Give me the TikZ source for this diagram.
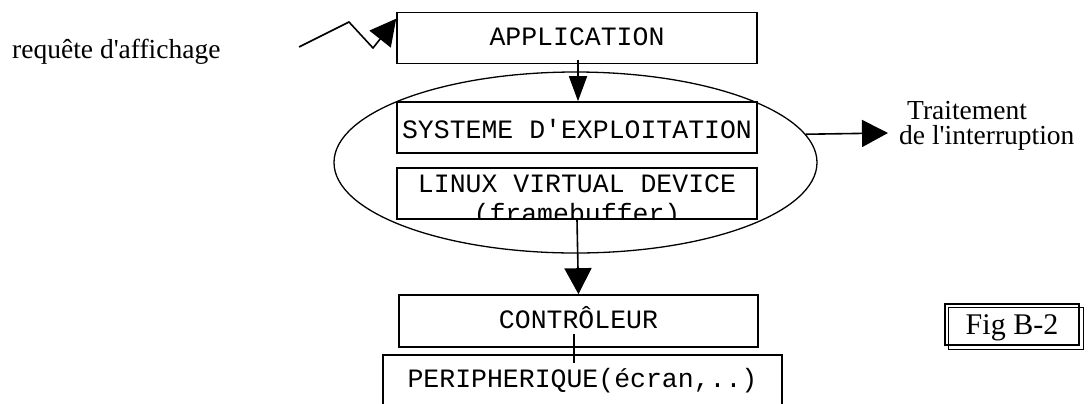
\documentclass[tikz,border=0pt]{standalone}
\usepackage{fontspec}
\setmainfont{Liberation Serif}
\newfontfamily\boxfont{Liberation Mono}
\usetikzlibrary{arrows.meta,shapes.geometric}
\begin{document}
\begin{tikzpicture}[x=1bp,y=-1bp,
  box/.style={draw,line width=1.6bp,fill=white,inner sep=0pt,minimum width=360bp,minimum height=51bp,
    font=\boxfont\fontsize{26.5bp}{30bp}\selectfont,text height=15bp,text depth=0bp},
  lbl/.style={inner sep=0pt,font=\fontsize{27.5bp}{32bp}\selectfont},
  arr/.style={line width=1.6bp,-{Triangle[length=26bp,width=27bp]}},
  plain/.style={line width=1.6bp}]
\useasboundingbox (0,0) rectangle (1089,403);
\clip (0,0) rectangle (1089,403);
% ellipse behind
\node[draw,ellipse,line width=1.3bp,minimum width=483bp,minimum height=181bp,inner sep=0pt] (ell) at (575.5,162.5) {};
% boxes
\node[box] (app) at (577,38) {APPLICATION};
\node[box,text height=21bp] (sys) at (577,127.5) {SYSTEME D'EXPLOITATION};
\node[box,path picture={
   \node[anchor=base,inner sep=0pt,font=\boxfont\fontsize{26.5bp}{30bp}\selectfont] at ([yshift=1.5bp]path picture bounding box.center) {LINUX VIRTUAL DEVICE};
   \node[anchor=base,inner sep=0pt,font=\boxfont\fontsize{26.5bp}{30bp}\selectfont] at ([yshift=-28.5bp]path picture bounding box.center) {(framebuffer)};
  }] (lin) at (577,193.5) {};
\node[box,minimum width=359bp,minimum height=52bp] (ctrl) at (578.5,321) {CONTRÔLEUR};
\node[box,minimum width=399bp,minimum height=89bp,text height=15bp,text depth=40bp] (periph) at (582.5,399.5) {PERIPHERIQUE(écran,..)};
% labels
\node[lbl,anchor=base west] (req) at (12,58) {requête d\textquotesingle affichage};
\node[lbl,anchor=north west,align=left,font=\fontsize{27.5bp}{25bp}\selectfont] (trait) at (899,101)
  {\hspace*{8bp}Traitement\\de l\textquotesingle interruption};
\node[draw,line width=1.3bp,minimum width=134bp,minimum height=41bp,inner sep=0pt,
  font=\fontsize{30bp}{34bp}\selectfont,text height=20bp,text depth=0bp] (fig) at (1012,324.5) {Fig B-2};
\draw[line width=1.3bp] ([xshift=4bp,yshift=-4bp]fig.north west) rectangle ([xshift=4bp,yshift=-4bp]fig.south east);
% connectors
\coordinate (z0) at (299,47);
\coordinate (z1) at (349,22);
\coordinate (z2) at (373,48);
\draw[arr] (z0) -- (z1) -- (z2) -- ([yshift=-7bp]app.north west);
\draw[line width=1.6bp,-{Triangle[length=25bp,width=18bp]}] ([xshift=1bp,yshift=4bp]app.south) -- ([xshift=1bp]sys.north);
\draw[arr] (lin.south) -- (ctrl.north);
\coordinate (tip) at (888,133);
\draw[arr] (ell.7.3) -- (tip);
\draw[plain] ([xshift=-4.5bp,yshift=-13bp]ctrl.center) -- ++(0,-29bp);
\end{tikzpicture}
\end{document}
